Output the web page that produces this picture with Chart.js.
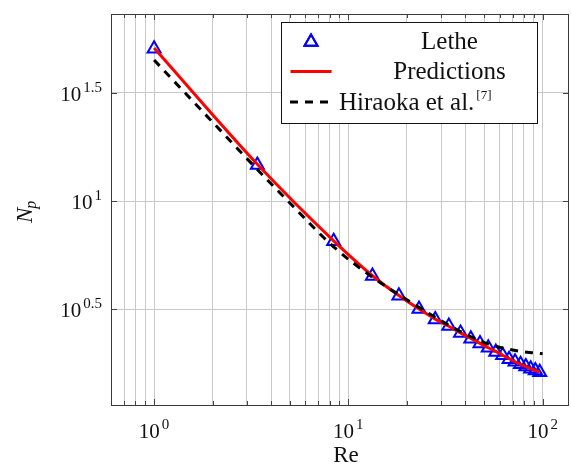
<!DOCTYPE html>
<html>
<head>
<meta charset="utf-8">
<title>Power number vs Reynolds number</title>
<script src="https://cdn.jsdelivr.net/npm/chart.js@4.4.1/dist/chart.umd.min.js"></script>
<style>
    html, body { margin: 0; padding: 0; background: #fff; }
    #wrap { width: 571px; height: 464px; }
</style>
</head>
<body>
<div id="wrap"><canvas id="npChart" width="571" height="464"></canvas></div>
<script>
// Lethe simulations
const letheRe = [1, 3.4, 8.4, 13.3, 18.2, 23.1, 28, 32.9, 37.8, 42.7, 47.6, 52.5, 57.4, 62.3, 67.2, 72.1, 77, 81.9, 86.8, 91.7, 96.6];
const letheNp = [50.7, 14.7, 6.53, 4.51, 3.65, 3.17, 2.84, 2.65, 2.46, 2.31, 2.20, 2.10, 2.01, 1.94, 1.86, 1.81, 1.76, 1.72, 1.68, 1.65, 1.62];

// model predictions
const predRe = [1, 3.4, 8.4, 13.3, 18.2, 23.1, 28, 32.9, 37.8, 42.7, 47.6, 52.5, 57.4, 62.3, 67.2, 72.1, 77, 81.9, 86.8, 91.7, 96.6];
const predNp = [51.0, 14.8, 6.55, 4.52, 3.66, 3.17, 2.85, 2.64, 2.46, 2.32, 2.20, 2.10, 2.02, 1.94, 1.87, 1.81, 1.76, 1.72, 1.68, 1.65, 1.62];

// Hiraoka et al. correlation
const hiraokaRe = [1, 2, 3.4, 5, 8.4, 13.3, 20, 30, 40, 50, 60, 70, 80, 90, 100];
const hiraokaNp = [44.9, 23.2, 14.0, 9.8, 6.15, 4.45, 3.50, 2.80, 2.43, 2.22, 2.11, 2.05, 2.01, 1.99, 1.97];

// axis ticks (base, exponent)
const xTicks = [1, 10, 100];
const xTickLabels = [['10', '0'], ['10', '1'], ['10', '2']];
const yTicks = [Math.pow(10, 0.5), 10, Math.pow(10, 1.5)];
const yTickLabels = [['10', '0.5'], ['10', '1'], ['10', '1.5']];

const X_MIN = 0.633, X_MAX = 136.7;
const Y_MIN = 1.142, Y_MAX = 73.3;
const SERIF = '"Liberation Serif", "DejaVu Serif", serif';

// minor grid positions for the log x axis: 0.7 .. 0.9, 1 .. 9, 10 .. 90, 100
const xGrid = [];
for (let dec = 0.1; dec <= 100; dec *= 10) {
    for (let m = 1; m <= 9; m++) {
        const v = Math.round(m * dec * 1000) / 1000;
        if (v > X_MIN && v < X_MAX) xGrid.push(v);
    }
}

function drawPowerLabel(ctx, base, exp, x, y, align, size) {
    const supSize = 15;
    ctx.font = size + 'px ' + SERIF;
    const wb = ctx.measureText(base).width;
    ctx.font = supSize + 'px ' + SERIF;
    const we = ctx.measureText(exp).width;
    const gap = 2;
    const total = wb + gap + we;
    let left = align === 'right' ? x - total : x - total / 2;
    ctx.textAlign = 'left';
    ctx.textBaseline = 'alphabetic';
    ctx.font = size + 'px ' + SERIF;
    ctx.fillText(base, left, y);
    ctx.font = supSize + 'px ' + SERIF;
    ctx.fillText(exp, left + wb + gap, y - size * 0.43);
}

const axisDecor = {
    id: 'axisDecor',
    afterDraw(chart) {
        const ctx = chart.ctx;
        const { left, right, top, bottom } = chart.chartArea;
        const xs = chart.scales.x, ys = chart.scales.y;
        ctx.save();

        // tick marks on all four sides
        ctx.strokeStyle = '#444';
        ctx.lineWidth = 1;
        ctx.beginPath();
        xGrid.forEach(v => {
            const px = Math.round(xs.getPixelForValue(v)) + 0.5;
            const len = xTicks.includes(v) ? 6 : 4;
            ctx.moveTo(px, bottom); ctx.lineTo(px, bottom - len);
            ctx.moveTo(px, top); ctx.lineTo(px, top + len);
        });
        yTicks.forEach(v => {
            const py = Math.round(ys.getPixelForValue(v)) + 0.5;
            ctx.moveTo(left, py); ctx.lineTo(left + 6, py);
            ctx.moveTo(right, py); ctx.lineTo(right - 6, py);
        });
        ctx.stroke();

        // frame
        ctx.strokeStyle = '#3a3a3a';
        ctx.strokeRect(Math.round(left) + 0.5, Math.round(top) + 0.5,
            Math.round(right - left) - 1, Math.round(bottom - top));

        // tick labels
        ctx.fillStyle = '#111';
        xTicks.forEach((v, i) => {
            drawPowerLabel(ctx, xTickLabels[i][0], xTickLabels[i][1],
                xs.getPixelForValue(v), bottom + 33, 'center', 21);
        });
        yTicks.forEach((v, i) => {
            drawPowerLabel(ctx, yTickLabels[i][0], yTickLabels[i][1],
                left - 9, ys.getPixelForValue(v) + 8, 'right', 21);
        });

        // axis titles
        ctx.font = '23px ' + SERIF;
        ctx.textAlign = 'center';
        ctx.fillText('Re', (left + right) / 2 + 6, 462);

        ctx.save();
        ctx.translate(32, 209);
        ctx.rotate(-Math.PI / 2);
        ctx.textAlign = 'left';
        ctx.font = 'italic 23px ' + SERIF;
        const wN = ctx.measureText('N').width;
        ctx.fillText('N', -14, 0);
        ctx.font = 'italic 16px ' + SERIF;
        ctx.fillText('p', -14 + wN - 1, 4);
        ctx.restore();

        // legend
        const lx = 281.5, ly = 22.5, lw = 256, lh = 101;
        ctx.fillStyle = '#fff';
        ctx.fillRect(lx, ly, lw, lh);
        ctx.strokeStyle = '#111';
        ctx.lineWidth = 1;
        ctx.strokeRect(lx, ly, lw, lh);

        const rows = [41, 71.5, 102];
        // triangle marker
        const ds0 = chart.data.datasets[0];
        ctx.strokeStyle = ds0.borderColor;
        ctx.lineWidth = ds0.borderWidth;
        Chart.helpers.drawPoint(ctx, { pointStyle: 'triangle', radius: ds0.pointRadius, rotation: 0, borderWidth: ds0.borderWidth }, 311, rows[0] + 1);
        ctx.stroke();
        // solid red
        const ds1 = chart.data.datasets[1];
        ctx.strokeStyle = ds1.borderColor;
        ctx.lineWidth = ds1.borderWidth;
        ctx.beginPath();
        ctx.moveTo(290.5, rows[1]); ctx.lineTo(331.5, rows[1]);
        ctx.stroke();
        // dashed black
        const ds2 = chart.data.datasets[2];
        ctx.strokeStyle = ds2.borderColor;
        ctx.lineWidth = ds2.borderWidth;
        ctx.setLineDash(ds2.borderDash);
        ctx.beginPath();
        ctx.moveTo(290, rows[2]); ctx.lineTo(328, rows[2]);
        ctx.stroke();
        ctx.setLineDash([]);

        ctx.fillStyle = '#111';
        ctx.font = '25px ' + SERIF;
        ctx.textAlign = 'center';
        ctx.fillText('Lethe', 449.5, 48.5);
        ctx.fillText('Predictions', 449.5, 79);
        ctx.textAlign = 'left';
        ctx.fillText('Hiraoka et al.', 339, 110);
        const wH = ctx.measureText('Hiraoka et al.').width;
        ctx.font = '13px ' + SERIF;
        ctx.fillText('[7]', 339 + wH + 2, 99);

        ctx.restore();
    }
};

new Chart(document.getElementById('npChart'), {
    type: 'scatter',
    data: {
        datasets: [
            {
                label: 'Lethe',
                data: letheRe.map((re, i) => ({ x: re, y: letheNp[i] })),
                showLine: false,
                pointStyle: 'triangle',
                pointRadius: 7.5,
                borderColor: '#0000ff',
                backgroundColor: 'rgba(0,0,0,0)',
                borderWidth: 2,
                order: 3
            },
            {
                label: 'Predictions',
                data: predRe.map((re, i) => ({ x: re, y: predNp[i] })),
                showLine: true,
                pointRadius: 0,
                borderColor: '#ff0000',
                borderWidth: 3,
                cubicInterpolationMode: 'monotone',
                order: 2
            },
            {
                label: 'Hiraoka et al.',
                data: hiraokaRe.map((re, i) => ({ x: re, y: hiraokaNp[i] })),
                showLine: true,
                pointRadius: 0,
                borderColor: '#000000',
                borderWidth: 3,
                borderDash: [8, 7],
                cubicInterpolationMode: 'monotone',
                order: 1
            }
        ]
    },
    options: {
        responsive: false,
        animation: false,
        layout: { autoPadding: false, padding: { top: 14, right: 2, left: 0, bottom: 0 } },
        plugins: {
            legend: { display: false },
            tooltip: { enabled: false }
        },
        scales: {
            x: {
                type: 'logarithmic',
                min: X_MIN,
                max: X_MAX,
                afterBuildTicks: s => { s.ticks = xGrid.map(v => ({ value: v })); },
                afterFit: s => { s.height = 59; },
                ticks: { display: false },
                grid: { color: '#c8c8c8', lineWidth: 1, drawTicks: false },
                border: { display: false }
            },
            y: {
                type: 'logarithmic',
                min: Y_MIN,
                max: Y_MAX,
                afterBuildTicks: s => { s.ticks = yTicks.map(v => ({ value: v })); },
                afterFit: s => { s.width = 111; },
                ticks: { display: false },
                grid: { color: '#c8c8c8', lineWidth: 1, drawTicks: false },
                border: { display: false }
            }
        }
    },
    plugins: [axisDecor]
});
</script>
</body>
</html>
